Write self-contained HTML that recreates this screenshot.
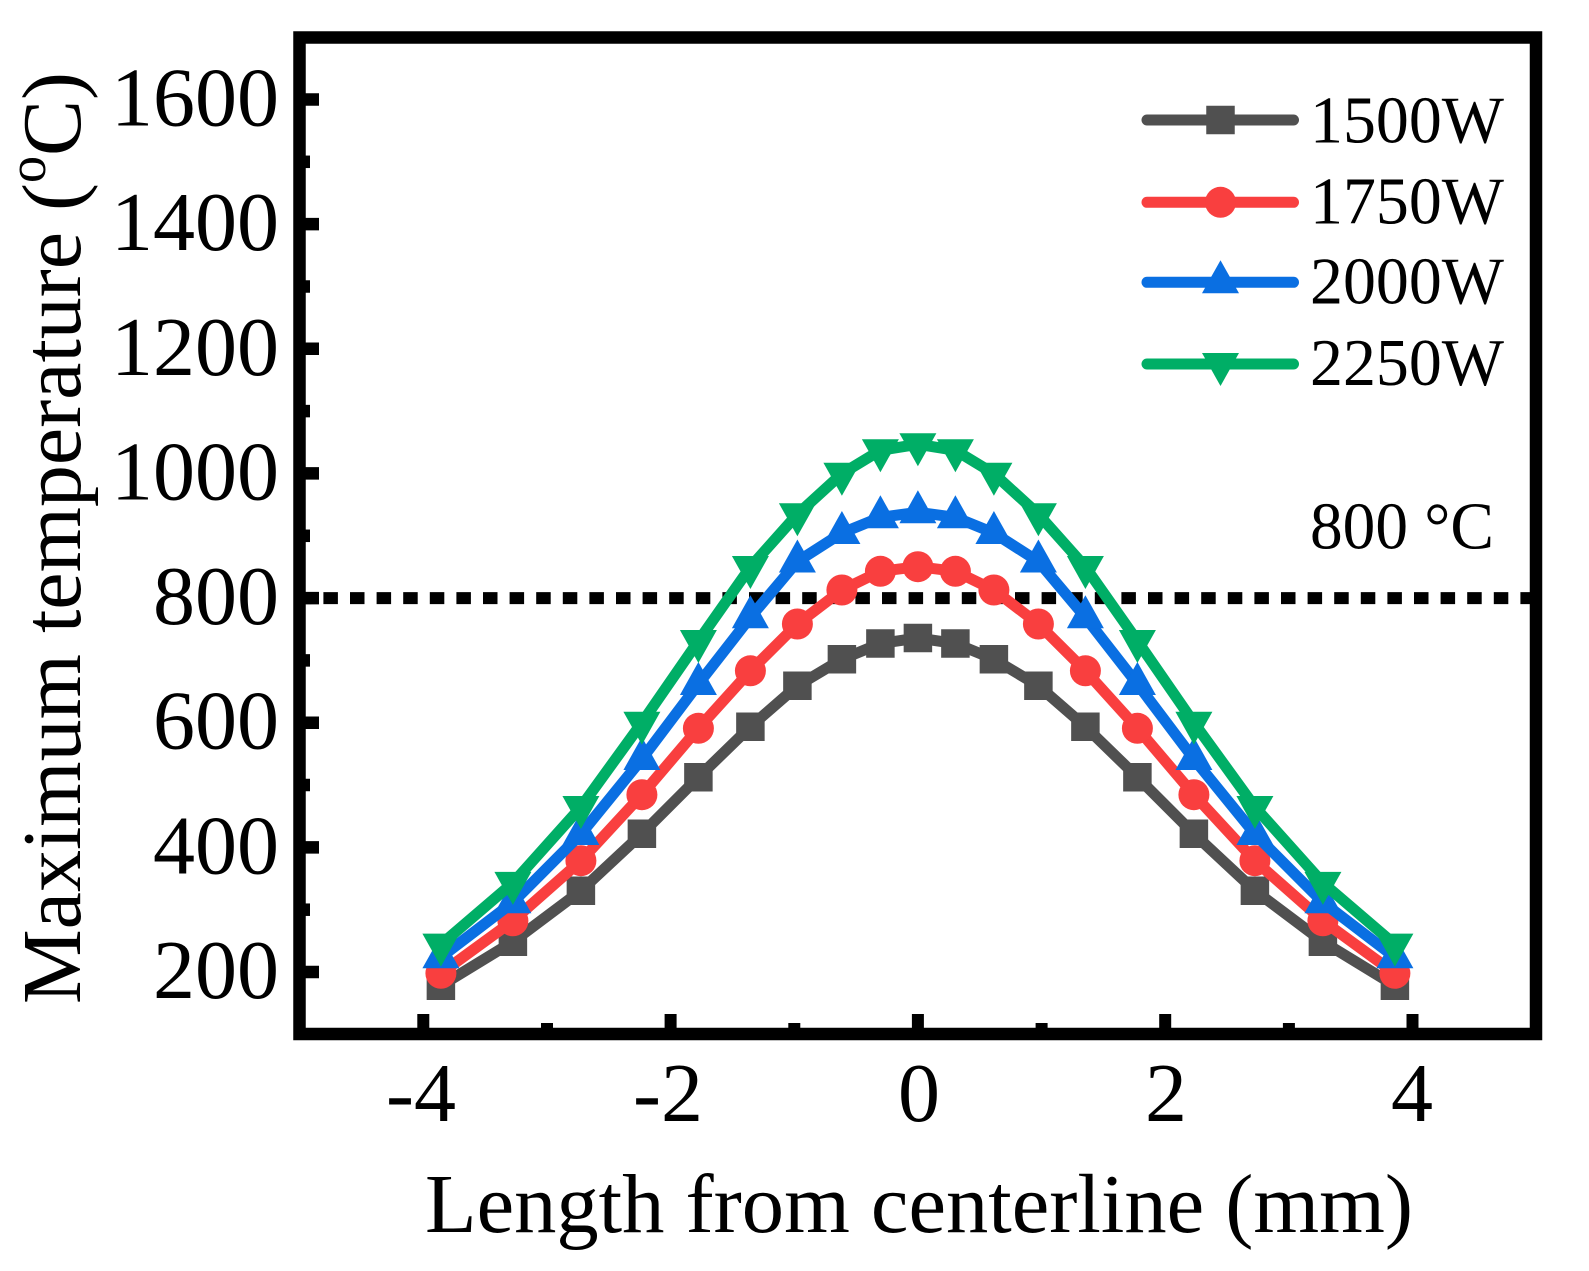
<!DOCTYPE html>
<html><head><meta charset="utf-8"><style>
html,body{margin:0;padding:0;background:#fff;}
svg{display:block;}
text{font-family:"Liberation Serif","Times New Roman",serif;fill:#000;}
</style></head><body>
<svg width="1589" height="1271" viewBox="0 0 1589 1271" xmlns="http://www.w3.org/2000/svg">
<defs>
<path id="sq" d="M-14.25,-14.25h28.5v28.5h-28.5z"/>
<circle id="ci" r="15.5"/>
<path id="tu" d="M0,-22L18.5,11L-18.5,11Z"/>
<path id="td" d="M0,22L18.5,-11L-18.5,-11Z"/>
</defs>
<rect width="1589" height="1271" fill="#fff"/>

<!-- dotted 800 line -->
<line x1="306" y1="598.1" x2="1530" y2="598.1" stroke="#000" stroke-width="12" stroke-dasharray="14.5 12.1" stroke-dashoffset="9.2"/>

<!-- 1500W -->
<polyline fill="none" stroke="#505050" stroke-width="11" stroke-linejoin="round" points="440.9,985.7 512.9,941.7 580.9,890.7 641.9,833.8 698.4,777.2 750.4,726.7 797.4,685.8 841.9,659.2 880.4,643.5 917.9,638 955.4,643.5 993.9,659.2 1038.4,685.8 1085.4,726.7 1137.4,777.2 1193.9,833.8 1254.9,890.7 1322.9,941.7 1394.9,985.7"/>
<g fill="#505050">
<use href="#sq" x="440.9" y="985.7"/><use href="#sq" x="512.9" y="941.7"/><use href="#sq" x="580.9" y="890.7"/><use href="#sq" x="641.9" y="833.8"/><use href="#sq" x="698.4" y="777.2"/><use href="#sq" x="750.4" y="726.7"/><use href="#sq" x="797.4" y="685.8"/><use href="#sq" x="841.9" y="659.2"/><use href="#sq" x="880.4" y="643.5"/><use href="#sq" x="917.9" y="638"/><use href="#sq" x="955.4" y="643.5"/><use href="#sq" x="993.9" y="659.2"/><use href="#sq" x="1038.4" y="685.8"/><use href="#sq" x="1085.4" y="726.7"/><use href="#sq" x="1137.4" y="777.2"/><use href="#sq" x="1193.9" y="833.8"/><use href="#sq" x="1254.9" y="890.7"/><use href="#sq" x="1322.9" y="941.7"/><use href="#sq" x="1394.9" y="985.7"/>
</g>

<!-- 1750W -->
<polyline fill="none" stroke="#F93F3F" stroke-width="11" stroke-linejoin="round" points="440.9,973.3 512.9,920.8 580.9,860.7 641.9,794.7 698.4,728.3 750.4,670.8 797.4,624 841.9,590 880.4,571.3 917.9,566.7 955.4,571.3 993.9,590 1038.4,624 1085.4,670.8 1137.4,728.3 1193.9,794.7 1254.9,860.7 1322.9,920.8 1394.9,973.3"/>
<g fill="#F93F3F">
<use href="#ci" x="440.9" y="973.3"/><use href="#ci" x="512.9" y="920.8"/><use href="#ci" x="580.9" y="860.7"/><use href="#ci" x="641.9" y="794.7"/><use href="#ci" x="698.4" y="728.3"/><use href="#ci" x="750.4" y="670.8"/><use href="#ci" x="797.4" y="624"/><use href="#ci" x="841.9" y="590"/><use href="#ci" x="880.4" y="571.3"/><use href="#ci" x="917.9" y="566.7"/><use href="#ci" x="955.4" y="571.3"/><use href="#ci" x="993.9" y="590"/><use href="#ci" x="1038.4" y="624"/><use href="#ci" x="1085.4" y="670.8"/><use href="#ci" x="1137.4" y="728.3"/><use href="#ci" x="1193.9" y="794.7"/><use href="#ci" x="1254.9" y="860.7"/><use href="#ci" x="1322.9" y="920.8"/><use href="#ci" x="1394.9" y="973.3"/>
</g>

<!-- 2000W -->
<polyline fill="none" stroke="#0A6FE2" stroke-width="11" stroke-linejoin="round" points="440.9,957.3 512.9,902.3 580.9,834 641.9,759 698.4,684 750.4,617.3 797.4,561.5 841.9,533 880.4,517.3 917.9,512.3 955.4,517.3 993.9,533 1038.4,561.5 1085.4,617.3 1137.4,684 1193.9,759 1254.9,834 1322.9,902.3 1394.9,957.3"/>
<g fill="#0A6FE2">
<use href="#tu" x="440.9" y="957.3"/><use href="#tu" x="512.9" y="902.3"/><use href="#tu" x="580.9" y="834"/><use href="#tu" x="641.9" y="759"/><use href="#tu" x="698.4" y="684"/><use href="#tu" x="750.4" y="617.3"/><use href="#tu" x="797.4" y="561.5"/><use href="#tu" x="841.9" y="533"/><use href="#tu" x="880.4" y="517.3"/><use href="#tu" x="917.9" y="512.3"/><use href="#tu" x="955.4" y="517.3"/><use href="#tu" x="993.9" y="533"/><use href="#tu" x="1038.4" y="561.5"/><use href="#tu" x="1085.4" y="617.3"/><use href="#tu" x="1137.4" y="684"/><use href="#tu" x="1193.9" y="759"/><use href="#tu" x="1254.9" y="834"/><use href="#tu" x="1322.9" y="902.3"/><use href="#tu" x="1394.9" y="957.3"/>
</g>

<!-- 2250W -->
<polyline fill="none" stroke="#00AE66" stroke-width="11" stroke-linejoin="round" points="440.9,944.6 512.9,882.9 580.9,807 641.9,722.7 698.4,641 750.4,567 797.4,514.3 841.9,473.7 880.4,450.3 917.9,444.3 955.4,450.3 993.9,473.7 1038.4,514.3 1085.4,567 1137.4,641 1193.9,722.7 1254.9,807 1322.9,882.9 1394.9,944.6"/>
<g fill="#00AE66">
<use href="#td" x="440.9" y="944.6"/><use href="#td" x="512.9" y="882.9"/><use href="#td" x="580.9" y="807"/><use href="#td" x="641.9" y="722.7"/><use href="#td" x="698.4" y="641"/><use href="#td" x="750.4" y="567"/><use href="#td" x="797.4" y="514.3"/><use href="#td" x="841.9" y="473.7"/><use href="#td" x="880.4" y="450.3"/><use href="#td" x="917.9" y="444.3"/><use href="#td" x="955.4" y="450.3"/><use href="#td" x="993.9" y="473.7"/><use href="#td" x="1038.4" y="514.3"/><use href="#td" x="1085.4" y="567"/><use href="#td" x="1137.4" y="641"/><use href="#td" x="1193.9" y="722.7"/><use href="#td" x="1254.9" y="807"/><use href="#td" x="1322.9" y="882.9"/><use href="#td" x="1394.9" y="944.6"/>
</g>

<!-- frame -->
<rect x="299.5" y="37.5" width="1236.5" height="996.5" fill="none" stroke="#000" stroke-width="12.5"/>

<!-- y ticks -->
<g stroke="#000" stroke-width="12.5">
<line x1="299.5" y1="972" x2="319" y2="972"/>
<line x1="299.5" y1="847.4" x2="319" y2="847.4"/>
<line x1="299.5" y1="722.7" x2="319" y2="722.7"/>
<line x1="299.5" y1="598.1" x2="319" y2="598.1"/>
<line x1="299.5" y1="473.4" x2="319" y2="473.4"/>
<line x1="299.5" y1="348.8" x2="319" y2="348.8"/>
<line x1="299.5" y1="224.1" x2="319" y2="224.1"/>
<line x1="299.5" y1="99.5" x2="319" y2="99.5"/>
<line x1="299.5" y1="909.7" x2="310" y2="909.7"/>
<line x1="299.5" y1="785" x2="310" y2="785"/>
<line x1="299.5" y1="660.4" x2="310" y2="660.4"/>
<line x1="299.5" y1="535.8" x2="310" y2="535.8"/>
<line x1="299.5" y1="411.1" x2="310" y2="411.1"/>
<line x1="299.5" y1="286.5" x2="310" y2="286.5"/>
<line x1="299.5" y1="161.8" x2="310" y2="161.8"/>
</g>
<!-- x ticks -->
<g stroke="#000" stroke-width="12">
<line x1="423.3" y1="1034" x2="423.3" y2="1014"/>
<line x1="670.6" y1="1034" x2="670.6" y2="1014"/>
<line x1="917.9" y1="1034" x2="917.9" y2="1014"/>
<line x1="1165.2" y1="1034" x2="1165.2" y2="1014"/>
<line x1="1412.5" y1="1034" x2="1412.5" y2="1014"/>
<line x1="547" y1="1034" x2="547" y2="1023"/>
<line x1="794.3" y1="1034" x2="794.3" y2="1023"/>
<line x1="1041.6" y1="1034" x2="1041.6" y2="1023"/>
<line x1="1288.9" y1="1034" x2="1288.9" y2="1023"/>
</g>

<!-- y tick labels -->
<g font-size="84" text-anchor="end">
<text x="279" y="998">200</text>
<text x="279" y="873.4">400</text>
<text x="279" y="748.7">600</text>
<text x="279" y="624.1">800</text>
<text x="279" y="499.4">1000</text>
<text x="279" y="374.8">1200</text>
<text x="279" y="250.1">1400</text>
<text x="279" y="125.5">1600</text>
</g>
<!-- x tick labels -->
<g font-size="84" text-anchor="middle">
<text x="421" y="1121">-4</text>
<text x="668" y="1121">-2</text>
<text x="919" y="1121">0</text>
<text x="1166" y="1121">2</text>
<text x="1412" y="1121">4</text>
</g>

<!-- axis titles -->
<text x="919" y="1232" font-size="84" text-anchor="middle" textLength="988" lengthAdjust="spacingAndGlyphs">Length from centerline (mm)</text>
<text transform="translate(80,538) rotate(-90)" font-size="84" text-anchor="middle">Maximum temperature (<tspan font-size="54" dy="-35">o</tspan><tspan dy="35">C)</tspan></text>

<!-- legend -->
<g stroke-width="11" stroke-linecap="round">
<line x1="1147" y1="120" x2="1293.5" y2="120" stroke="#505050"/>
<line x1="1147" y1="202.3" x2="1293.5" y2="202.3" stroke="#F93F3F"/>
<line x1="1147" y1="282.3" x2="1293.5" y2="282.3" stroke="#0A6FE2"/>
<line x1="1147" y1="364" x2="1293.5" y2="364" stroke="#00AE66"/>
</g>
<use href="#sq" x="1220.5" y="120" fill="#505050"/>
<use href="#ci" x="1220.5" y="202.3" fill="#F93F3F"/>
<use href="#tu" x="1220.5" y="282.3" fill="#0A6FE2"/>
<use href="#td" x="1220.5" y="364" fill="#00AE66"/>
<g font-size="67">
<text x="1310" y="142.7" textLength="194" lengthAdjust="spacingAndGlyphs">1500W</text>
<text x="1310" y="223.3" textLength="194" lengthAdjust="spacingAndGlyphs">1750W</text>
<text x="1310" y="303.3" textLength="194" lengthAdjust="spacingAndGlyphs">2000W</text>
<text x="1310" y="385" textLength="194" lengthAdjust="spacingAndGlyphs">2250W</text>
<text x="1310" y="548.3" textLength="184" lengthAdjust="spacingAndGlyphs">800 °C</text>
</g>
</svg>
</body></html>
